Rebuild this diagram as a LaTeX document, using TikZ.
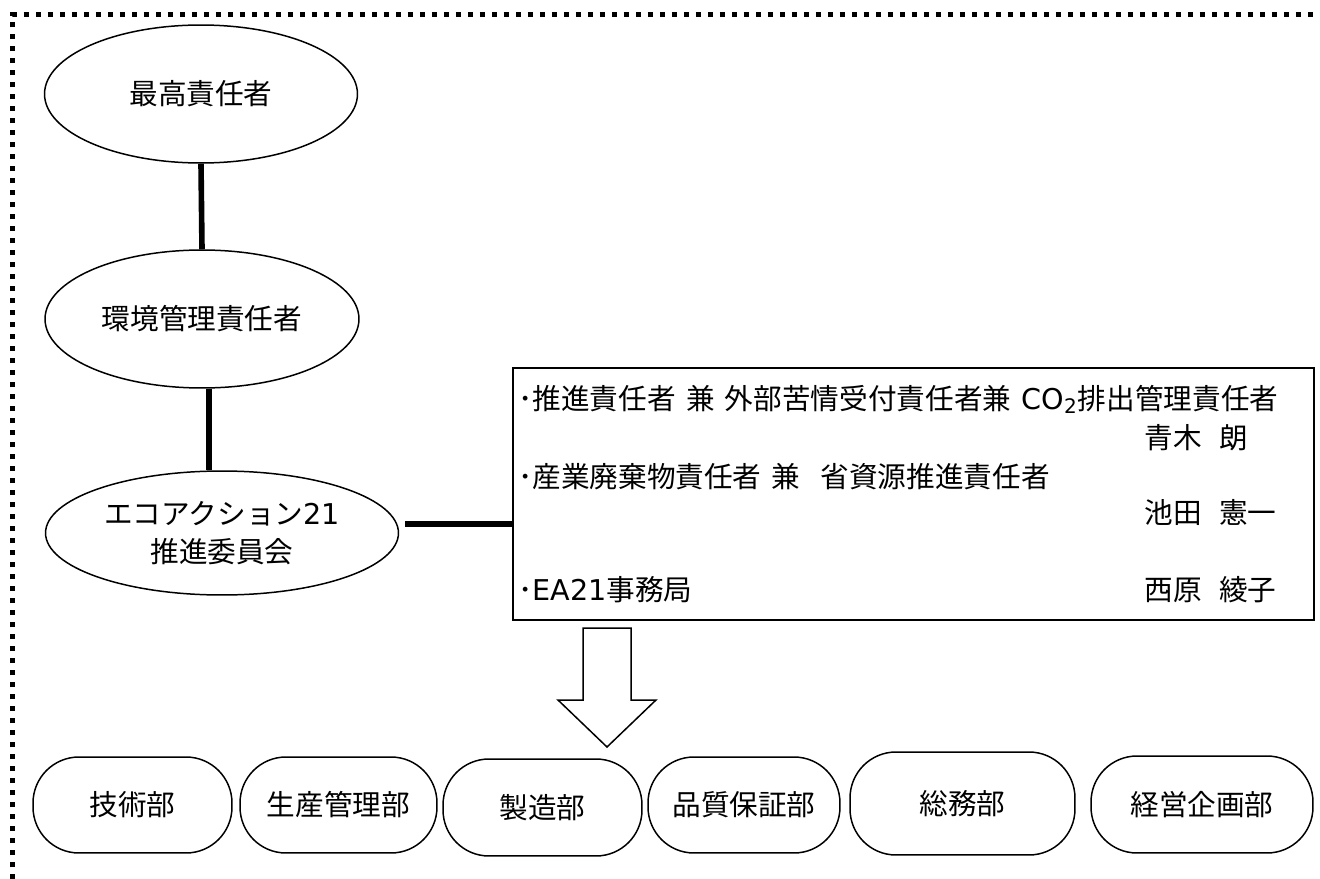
\documentclass[tikz,border=0pt]{standalone}
\usepackage{fontspec}
\setmainfont{Noto Sans CJK JP}
\newfontfamily\latinfont{DejaVu Sans}
\usetikzlibrary{shapes.geometric,positioning}
\tikzset{
    %Define style for the posts
    postellipse/.style={
           ellipse,
           draw=black, line width=0.85pt,
           inner sep=0pt,
           align=center},
    deptbox/.style={
           rectangle,
           rounded corners=0.92cm,
           draw=black, line width=0.85pt,
           minimum height=1.92cm,
           inner sep=0pt},
    dutybox/.style={
           rectangle,
           draw=black, line width=0.85pt,
           minimum width=16.02cm,
           minimum height=5.04cm},
    dutytext/.style={
           anchor=west,
           inner sep=0pt},
    link/.style={line width=3.2pt},
    frameline/.style={line width=2.8pt, dash pattern=on 2.8pt off 4.03pt},
    blockarrow/.style={draw=black, line width=0.85pt, line join=miter}
}
\def\chartsize{\fontsize{16.3}{21.6}\selectfont}
\def\gap{\hspace{0.36em}}

\begin{document}
\begin{tikzpicture}[x=0.02cm, y=-0.02cm, every node/.style={font=\chartsize}]
\useasboundingbox (0,0) rectangle (1320,879);
\draw[frameline] (12.3,879) -- (12.3,14.7) -- (1320,14.7);
\node[postellipse, minimum width=6.26cm, minimum height=2.76cm] (TOP) at (201,94) {最高責任者};
\node[postellipse, minimum width=6.28cm, minimum height=2.76cm] (EMR) at (202,319) {環境管理責任者};
\node[postellipse, minimum width=7.06cm, minimum height=2.48cm] (EA21) at (222,533) {エコアクション{\latinfont 21}\\推進委員会};
\node[dutybox] (DUTY) at (913.5,494) {};
\node[dutytext] (ROLE1) at ([shift={(5.5,32)}]DUTY.north west) {･推進責任者\gap 兼\gap 外部苦情受付責任者兼\gap{\latinfont CO\textsubscript{2}}排出管理責任者};
\node[dutytext] (NAME1) at ([shift={(632,70)}]DUTY.north west) {青木\hspace{0.6em}朗};
\node[dutytext] (ROLE2) at ([shift={(5.5,109)}]DUTY.north west) {･産業廃棄物責任者\gap 兼\hspace{0.7em}省資源推進責任者};
\node[dutytext] (NAME2) at ([shift={(632,145)}]DUTY.north west) {池田\hspace{0.6em}憲一};
\node[dutytext] (ROLE3) at ([shift={(5.5,222)}]DUTY.north west) {･{\latinfont EA21}事務局};
\node[dutytext] (NAME3) at ([shift={(632,222)}]DUTY.north west) {西原\hspace{0.6em}綾子};
\node[deptbox, minimum width=3.98cm] (GIJ) at (132.5,805) {技術部};
\node[deptbox, minimum width=3.94cm] (SEIKAN) at (338.5,805) {生産管理部};
\node[deptbox, minimum width=3.98cm, minimum height=1.94cm] (SEIZO) at (542.5,807.5) {製造部};
\node[deptbox, minimum width=3.84cm] (HINSHO) at (744,805) {品質保証部};
\node[deptbox, minimum width=4.5cm, minimum height=2.06cm] (SOMU) at (962.5,803.5) {総務部};
\node[deptbox, minimum width=4.44cm, minimum height=1.94cm] (KEIKI) at (1202,804.5) {経営企画部};
\coordinate (emrfoot) at ([xshift=0.14cm]EMR.south);
\coordinate (ea21out) at ([shift={(6,-9)}]EA21.east);
\draw[link] (TOP.south) -- (EMR.north);
\draw[link] (emrfoot) -- (emrfoot |- EA21.north);
\draw[link] (ea21out) -- (ea21out -| DUTY.west);
\draw[blockarrow] (583,628) -- (631,628) -- (631,700) -- (656,700) -- (607,747) -- (558,700) -- (583,700) -- cycle;
\end{tikzpicture}
\end{document}
